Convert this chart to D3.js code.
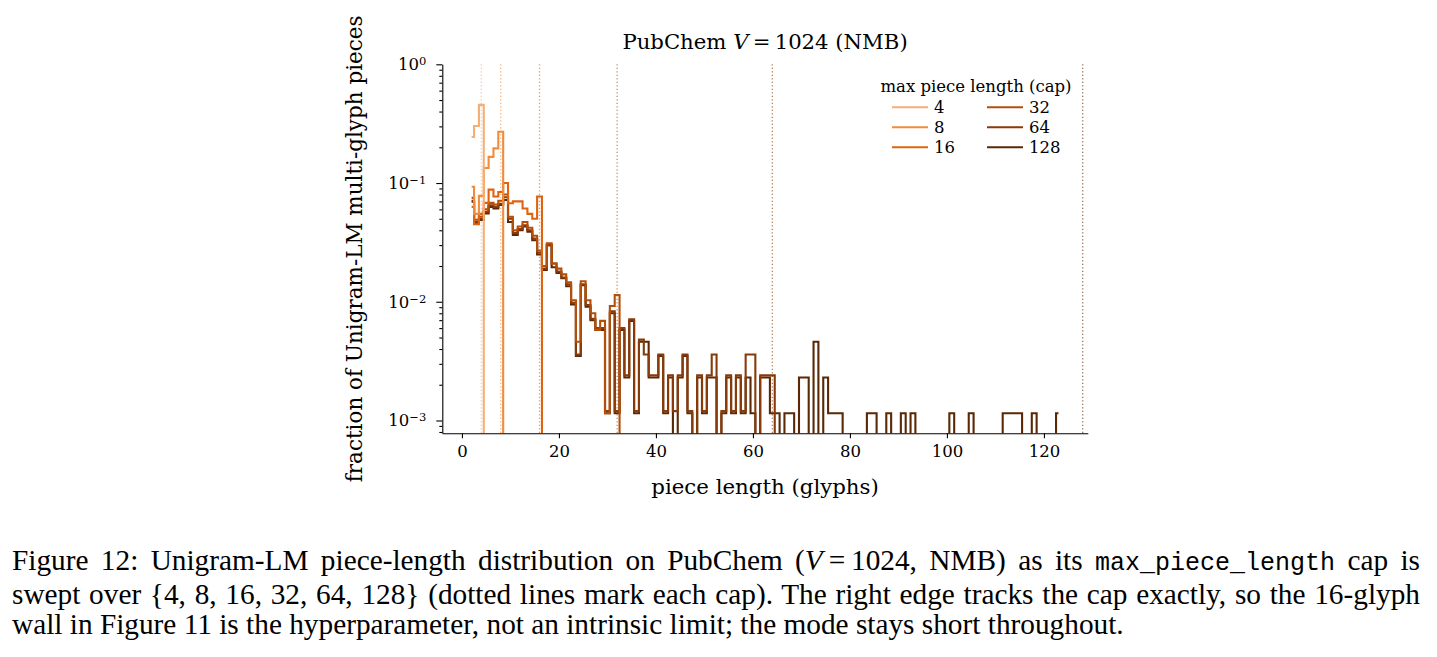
<!DOCTYPE html>
<html>
<head>
<meta charset="utf-8">
<script src="https://cdn.jsdelivr.net/npm/d3@7"></script>
<style>
  body { margin: 0; background: #fff; }
  #chart { position: absolute; left: 0; top: 0; }
  #caption { position: absolute; left: 12px; top: 545px; width: 1408px;
    font-family: "Liberation Serif", "Times New Roman", serif; font-size: 29.3px;
    line-height: 30px; color: #000; white-space: nowrap; }
  #caption .full { text-align: justify; text-align-last: justify; }
  #caption .tt { font-family: "Liberation Mono", "DejaVu Sans Mono", monospace; font-size: 25px; }
</style>
</head>
<body>
<div id="chart"></div>
<div id="caption"></div>
<script>
// caps swept and their colours
var caps = [4, 8, 16, 32, 64, 128];
var capColors = ["#f5ae74", "#f08c3c", "#de6410", "#b44f0b", "#883a08", "#5a2806"];

// every series starts at piece length 2 (one value per glyph count)
var firstLength = 2;

var frac4 = [0.244, 0.302, 0.455, 0];
var frac8 = [0.093, 0.055, 0.078, 0.134, 0.166, 0.196, 0.27, 0];
var frac16 = [0.063, 0.045, 0.055, 0.068, 0.088, 0.077, 0.084, 0.1, 0.0675, 0.07,
  0.07, 0.061, 0.055, 0.05, 0.077, 0];
var frac32 = [0.075, 0.049, 0.052, 0.060, 0.068, 0.066, 0.071, 0.080, 0.052, 0.040,
  0.043, 0.047, 0.042, 0.036, 0.027, 0.020, 0.031, 0.021, 0.019, 0.017,
  0.0146, 0.0103, 0.0046, 0.0149, 0.0103, 0.0080, 0.0058, 0.0069, 0.00115, 0.0092,
  0.0114, 0];
var frac64 = [0.071, 0.047, 0.050, 0.057, 0.065, 0.063, 0.067, 0.076, 0.050, 0.038,
  0.041, 0.044, 0.040, 0.034, 0.026, 0.019, 0.030, 0.021, 0.018, 0.016,
  0.014, 0.0098, 0.0036, 0.014, 0.0094, 0.0072, 0.0060, 0.0060, 0.0012, 0.0083,
  0.0012, 0.0060, 0.0024, 0.0071, 0.0012, 0.0048, 0.0036, 0.0024, 0.0024, 0.0036,
  0.0012, 0.0024, 0.0012, 0.0024, 0.0036, 0.0012, 0, 0.0024, 0.0012, 0.0024,
  0.0036, 0, 0.0012, 0.0024, 0.0012, 0.0024, 0.0012, 0.0036, 0.0036, 0,
  0.0024, 0.0024, 0.0024, 0];
var frac128 = [0.0695, 0.0458, 0.0488, 0.0554, 0.063, 0.061, 0.0654, 0.072, 0.047, 0.0365,
  0.040, 0.043, 0.039, 0.033, 0.025, 0.0185, 0.030, 0.0195, 0.0175, 0.0158,
  0.0135, 0.0095, 0.0035, 0.0138, 0.0091, 0.0070, 0.0058, 0.0058, 0.00115, 0.0080,
  0.00115, 0.0058, 0.0023, 0.0069, 0.00115, 0.0046, 0.0046, 0.0023, 0.0023, 0.0035,
  0.00115, 0.0023, 0, 0.0023, 0.0035, 0.00115, 0, 0.0023, 0.00115, 0.0023,
  0.0023, 0, 0.00115, 0.0023, 0.00115, 0.0023, 0.00115, 0.0023, 0.00115, 0,
  0.0023, 0.0023, 0.00115, 0.00115, 0, 0.00115, 0.00115, 0, 0.0023, 0.0023,
  0, 0.0046, 0, 0.0023, 0.00115, 0.00115, 0.00115, 0, 0, 0,
  0, 0, 0.00115, 0.00115, 0, 0, 0.00115, 0, 0, 0.00115,
  0, 0.00115, 0, 0, 0, 0, 0, 0, 0, 0.00115,
  0, 0, 0, 0.00115, 0, 0, 0, 0, 0, 0,
  0.00115, 0.00115, 0.00115, 0.00115, 0, 0, 0.00115, 0, 0, 0,
  0, 0.00115];
var seriesValues = [frac4, frac8, frac16, frac32, frac64, frac128];

// tick labels
var xTicks = [0, 20, 40, 60, 80, 100, 120];
var yMajorTicks = [1e-3, 1e-2, 1e-1, 1];
var yExponents = ["\u22123", "\u22122", "\u22121", "0"];

// svg container
var svgWidth = 1437;
var svgHeight = 530;

var margin = { top: 64.3, left: 442.3 };
var chartWidth = 645.5;
var chartHeight = 369;

var serif = "'DejaVu Serif', serif";

var svg = d3.select("#chart").append("svg")
  .attr("width", svgWidth)
  .attr("height", svgHeight);

var chartGroup = svg.append("g")
  .attr("transform", `translate(${margin.left}, ${margin.top})`);

// scales
var xScale = d3.scaleLinear().domain([-4.05, 129.05]).range([0, chartWidth]);
var yScale = d3.scaleLog().domain([7.8e-4, 1]).range([chartHeight, 0]);

svg.append("defs").append("clipPath").attr("id", "plotClip")
  .append("rect").attr("width", chartWidth).attr("height", chartHeight);

// dotted cap markers
chartGroup.selectAll(".capLine")
  .data(caps)
  .enter()
  .append("line")
  .attr("class", "capLine")
  .attr("x1", d => xScale(d))
  .attr("x2", d => xScale(d))
  .attr("y1", 0)
  .attr("y2", chartHeight)
  .attr("stroke", (d, i) => capColors[i])
  .attr("stroke-opacity", 0.65)
  .attr("stroke-width", 1.3)
  .attr("stroke-dasharray", "1.3,2.2");

// step outlines (steps-mid), zeros dropped below the axis
var stepLine = d3.line()
  .x((d, i) => xScale(firstLength + i))
  .y(d => d > 0 ? yScale(d) : chartHeight + 30)
  .curve(d3.curveStep);

var order = d3.range(caps.length).reverse();
chartGroup.append("g")
  .attr("clip-path", "url(#plotClip)")
  .selectAll("path")
  .data(order)
  .enter()
  .append("path")
  .attr("d", i => stepLine(seriesValues[i]))
  .attr("fill", "none")
  .attr("stroke", i => capColors[i])
  .attr("stroke-width", 2.1)
  .attr("stroke-linejoin", "miter");

// x axis
var xAxis = d3.axisBottom(xScale)
  .tickValues(xTicks)
  .tickSize(5)
  .tickSizeOuter(0)
  .tickPadding(7);

var xAxisGroup = chartGroup.append("g")
  .attr("transform", `translate(0, ${chartHeight})`)
  .call(xAxis);
xAxisGroup.selectAll("text")
  .style("font-family", serif)
  .style("font-size", "16.5px")
  .attr("fill", "#000");

// y axis, major and minor log ticks
var yMinorTicks = yScale.ticks().filter(t => yMajorTicks.indexOf(t) < 0);

var yAxisGroup = chartGroup.append("g")
  .call(d3.axisLeft(yScale).tickValues(yMajorTicks).tickSize(6).tickSizeOuter(0).tickFormat(""));
chartGroup.append("g")
  .call(d3.axisLeft(yScale).tickValues(yMinorTicks).tickSize(3).tickSizeOuter(0).tickFormat(""))
  .select(".domain").remove();

[xAxisGroup, yAxisGroup].forEach(function(g) {
  g.select(".domain").attr("stroke", "#000").attr("stroke-width", 1.1);
});
chartGroup.selectAll(".tick line").attr("stroke", "#000").attr("stroke-width", 1.1);

var yLabels = chartGroup.append("g")
  .selectAll("text")
  .data(yMajorTicks)
  .enter()
  .append("text")
  .attr("x", -16)
  .attr("y", d => yScale(d) + 6)
  .attr("text-anchor", "end")
  .style("font-family", serif)
  .style("font-size", "16.5px");
yLabels.append("tspan").text("10");
yLabels.append("tspan")
  .attr("dy", "-0.45em")
  .style("font-size", "11.5px")
  .text((d, i) => yExponents[i]);

// axes labels
chartGroup.append("text")
  .attr("x", chartWidth / 2)
  .attr("y", chartHeight + 61)
  .attr("text-anchor", "middle")
  .style("font-family", serif)
  .style("font-size", "21.3px")
  .text("piece length (glyphs)");

chartGroup.append("text")
  .attr("transform", "rotate(-90)")
  .attr("x", -chartHeight / 2)
  .attr("y", -80)
  .attr("text-anchor", "middle")
  .style("font-family", serif)
  .style("font-size", "21.5px")
  .text("fraction of Unigram-LM multi-glyph pieces");

// title
var title = chartGroup.append("text")
  .attr("x", chartWidth / 2)
  .attr("y", -15)
  .attr("text-anchor", "middle")
  .style("font-family", serif)
  .style("font-size", "21.2px");
title.append("tspan").text("PubChem ");
title.append("tspan").style("font-style", "italic").text("V");
title.append("tspan").text("\u2009=\u20091024 (NMB)");

// legend
var legend = svg.append("g");
legend.append("text")
  .attr("x", 976)
  .attr("y", 92)
  .attr("text-anchor", "middle")
  .style("font-family", serif)
  .style("font-size", "16.5px")
  .text("max piece length (cap)");

var legendItems = legend.selectAll(".legendItem")
  .data(caps)
  .enter()
  .append("g")
  .attr("class", "legendItem")
  .attr("transform", (d, i) => `translate(${i < 3 ? 892 : 987}, ${107.3 + (i % 3) * 20})`);
legendItems.append("line")
  .attr("x1", 0).attr("x2", 36)
  .attr("stroke", (d, i) => capColors[i])
  .attr("stroke-width", 2.1);
legendItems.append("text")
  .attr("x", 42)
  .attr("y", 5.8)
  .style("font-family", serif)
  .style("font-size", "16.5px")
  .text(d => d);

// caption
var caption = d3.select("#caption");
caption.append("div").attr("class", "full")
  .html("Figure 12: Unigram-LM piece-length distribution on PubChem (<i>V</i>\u2009=\u20091024, NMB) as its <span class='tt'>max_piece_length</span> cap is");
caption.append("div").attr("class", "full")
  .html("swept over {4, 8, 16, 32, 64, 128} (dotted lines mark each cap). The right edge tracks the cap exactly, so the 16-glyph");
caption.append("div")
  .html("wall in Figure 11 is the hyperparameter, not an intrinsic limit; the mode stays short throughout.");
</script>
</body>
</html>
